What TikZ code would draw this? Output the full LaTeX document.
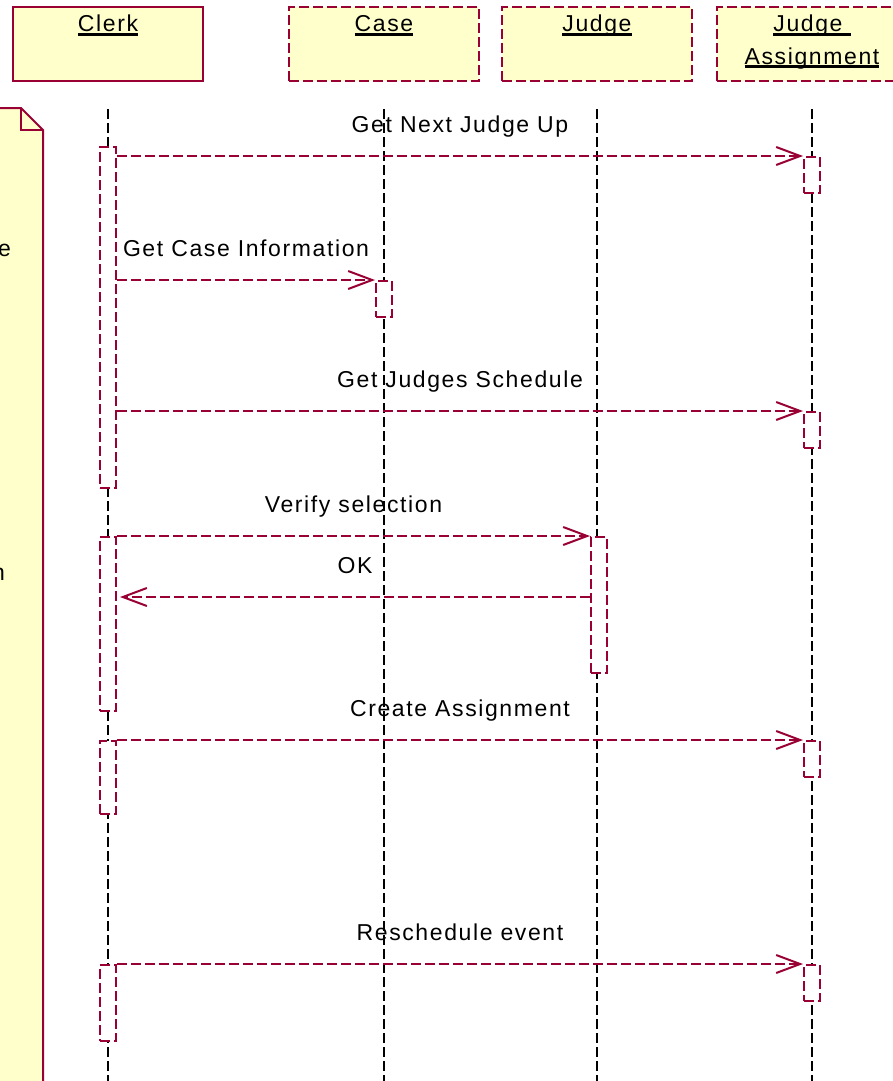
\documentclass[tikz,border=0pt]{standalone}
\usepackage{fontspec}
\setmainfont{Liberation Sans}[LetterSpace=7]
\usetikzlibrary{arrows.meta}
\definecolor{umlred}{HTML}{990033}
\definecolor{umlfill}{HTML}{FFFFCC}
\newcommand{\ulined}[1]{\setbox0\hbox{#1}\rlap{\rule[-3.7pt]{\wd0}{2.4pt}}\box0}

\begin{document}
\begin{tikzpicture}[x=1pt, y=-1pt, font=\fontsize{23}{32}\selectfont,
  objbox/.style={draw=umlred, line width=2pt, fill=umlfill, minimum width=190pt, minimum height=74pt, inner sep=0pt},
  dashbox/.style={objbox, dash pattern=on 10pt off 4pt},
  lifeline/.style={draw=black, line width=2pt, dash pattern=on 10pt off 4pt},
  actbox/.style={draw=umlred, line width=2pt, fill=white, dash pattern=on 10pt off 4pt, minimum width=16pt, inner sep=0pt},
  msg/.style={draw=umlred, line width=2pt, dash pattern=on 10pt off 4pt, -{Straight Barb[length=24pt, width=18pt]}},
  msglabel/.style={anchor=base, inner sep=0pt, yshift=24pt, text=black},
  title/.style={anchor=base, inner sep=0pt}]

\path[use as bounding box, clip] (0,0) rectangle (893,1081);
\coordinate (bottom) at (0,1081);
\coordinate (okrow) at (0,597);

\draw[draw=umlred, line width=2pt, fill=umlfill] (-30,108) -- (21,108) -- (43,130) -- (43,1100) -- (-30,1100) -- cycle;
\draw[draw=umlred, line width=2pt] (21,108) -- (21,130) -- (43,130);
\node[anchor=base east, inner sep=0pt] (notee) at (11,256) {e};
\node[anchor=base east, inner sep=0pt] (noten) at (5,580) {n};

\node[objbox] (clerk) at (108,44) {};
\node[dashbox] (case) at (384,44) {};
\node[dashbox] (judge) at (597,44) {};
\node[dashbox] (assign) at (812,44) {};
\node[title] (clerklbl) at (108,32) {\ulined{Clerk}};
\node[title] (caselbl) at (384,32) {\ulined{Case}};
\node[title] (judgelbl) at (597,32) {\ulined{Judge}};
\node[title] (assignlbla) at (812,32) {\ulined{Judge\ }};
\node[title] (assignlblb) at (812,64) {\ulined{Assignment}};

\draw[lifeline] ([yshift=-27pt]clerk.south) -- (clerk.south |- bottom);
\draw[lifeline] ([yshift=-27pt]case.south) -- (case.south |- bottom);
\draw[lifeline] ([yshift=-27pt]judge.south) -- (judge.south |- bottom);
\draw[lifeline] ([yshift=-27pt]assign.south) -- (assign.south |- bottom);

\node[actbox, minimum height=341pt] (clerkact1) at (108,317.5) {};
\node[actbox, minimum height=36pt] (assignact1) at (812,175) {};
\node[actbox, minimum height=36pt] (caseact1) at (384,299) {};
\node[actbox, minimum height=36pt] (assignact2) at (812,430) {};
\node[actbox, minimum height=174pt] (clerkact2) at (108,624) {};
\node[actbox, minimum height=136pt] (judgeact1) at (599,605) {};
\node[actbox, minimum height=73pt] (clerkact3) at (108,777.5) {};
\node[actbox, minimum height=36pt] (assignact3) at (812,759) {};
\node[actbox, minimum height=76pt] (clerkact4) at (108,1003) {};
\node[actbox, minimum height=36pt] (assignact4) at (812,983) {};

\draw[msg] (clerkact1.east |- assignact1.north) -- node[msglabel] {Get Next Judge Up} (assignact1.north west);
\draw[msg] (clerkact1.east |- caseact1.north) -- node[msglabel] {Get Case Information} (caseact1.north west);
\draw[msg] (clerkact1.east |- assignact2.north) -- node[msglabel] {Get Judges Schedule} (assignact2.north west);
\draw[msg] (clerkact2.north east) -- node[msglabel] {Verify selection} (judgeact1.north west);
\draw[msg] (judgeact1.west |- okrow) -- node[msglabel] {OK} ([xshift=3pt]clerkact2.east |- okrow);
\draw[msg] (clerkact3.north east) -- node[msglabel] {Create Assignment} (assignact3.north west);
\draw[msg] (clerkact4.north east) -- node[msglabel] {Reschedule event} (assignact4.north west);

\end{tikzpicture}
\end{document}
